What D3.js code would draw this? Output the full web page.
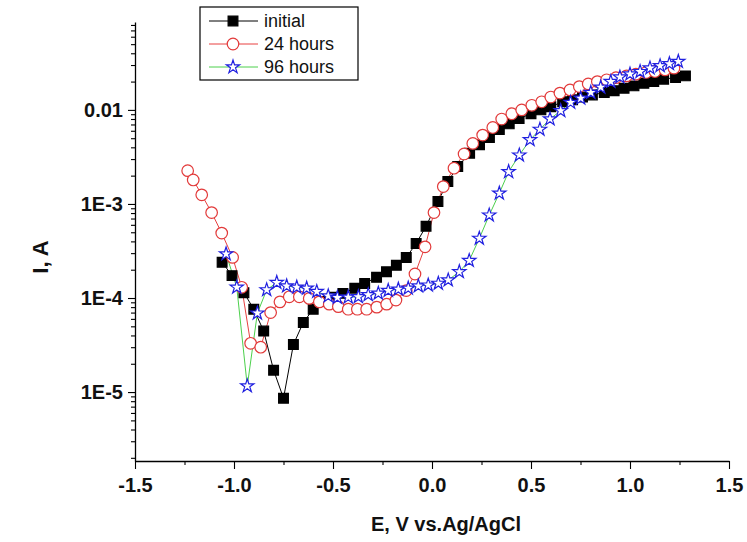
<!DOCTYPE html>
<html>
<head>
<meta charset="utf-8">
<script src="https://cdn.jsdelivr.net/npm/d3@7"></script>
<style>
  body { margin: 0; background: #fff; }
  text { font-family: "Liberation Sans", Arial, sans-serif; }
</style>
</head>
<body>
<div class="polarization"></div>
<script>
// initial scan
const eInitial = [-1.06, -1.01, -0.95, -0.90, -0.85, -0.80, -0.75, -0.70, -0.65, -0.60,
  -0.55, -0.50, -0.45, -0.39, -0.34, -0.28, -0.23, -0.18, -0.13, -0.08, -0.03, 0.03,
  0.08, 0.13, 0.19, 0.24, 0.29, 0.34, 0.39, 0.44, 0.50, 0.55, 0.60, 0.66, 0.71, 0.76,
  0.81, 0.87, 0.92, 0.97, 1.02, 1.07, 1.12, 1.17, 1.23, 1.28];
const iInitial = [2.4e-4, 1.73e-4, 1.14e-4, 7.6e-5, 4.45e-5, 1.71e-5, 8.6e-6, 3.2e-5, 5.5e-5, 7.6e-5,
  9.2e-5, 1.02e-4, 1.12e-4, 1.27e-4, 1.43e-4, 1.66e-4, 1.9e-4, 2.23e-4, 2.7e-4, 3.8e-4, 5.8e-4, 1.06e-3,
  1.73e-3, 2.5e-3, 3.46e-3, 4.25e-3, 5.1e-3, 6.2e-3, 7.1e-3, 8.1e-3, 9.1e-3, 0.010, 0.0108, 0.0122, 0.0128, 0.0137,
  0.0144, 0.0153, 0.016, 0.017, 0.018, 0.0192, 0.020, 0.0212, 0.0221, 0.023];

// after 24 hours
const e24h = [-1.234, -1.206, -1.163, -1.113, -1.062, -1.007, -0.961, -0.916, -0.865, -0.815,
  -0.768, -0.721, -0.670, -0.620, -0.569, -0.519, -0.473, -0.423, -0.377, -0.330, -0.279,
  -0.229, -0.182, -0.13, -0.086, -0.035, 0.010, 0.057, 0.111, 0.162, 0.206, 0.256, 0.307,
  0.352, 0.403, 0.453, 0.504, 0.554, 0.600, 0.646, 0.697, 0.744, 0.789, 0.835, 0.882,
  0.929, 0.983, 1.03, 1.081, 1.126, 1.177, 1.222];
const i24h = [2.26e-3, 1.8e-3, 1.25e-3, 8.1e-4, 4.9e-4, 2.7e-4, 1.3e-4, 3.3e-5, 3.0e-5, 7.0e-5,
  9.1e-5, 1.03e-4, 1.03e-4, 9.9e-5, 9.1e-5, 8.6e-5, 8.1e-5, 7.6e-5, 7.6e-5, 7.6e-5, 8.0e-5,
  8.6e-5, 9.5e-5, 1.2e-4, 1.8e-4, 3.5e-4, 8.1e-4, 1.53e-3, 2.4e-3, 3.4e-3, 4.4e-3, 5.4e-3, 6.5e-3,
  8.0e-3, 9.1e-3, 0.010, 0.0112, 0.0122, 0.0137, 0.0151, 0.0163, 0.0177, 0.0189, 0.020, 0.0209,
  0.022, 0.023, 0.024, 0.025, 0.0256, 0.0266, 0.0278];

// after 96 hours
const e96h = [-1.04, -0.986, -0.933, -0.882, -0.835, -0.784, -0.734, -0.683, -0.633, -0.582,
  -0.524, -0.478, -0.423, -0.372, -0.322, -0.271, -0.221, -0.170, -0.120, -0.069, -0.019,
  0.032, 0.082, 0.138, 0.188, 0.239, 0.289, 0.340, 0.387, 0.441, 0.495, 0.545, 0.596,
  0.650, 0.700, 0.751, 0.802, 0.852, 0.903, 0.949, 1.0, 1.051, 1.101, 1.152, 1.199, 1.244];
const i96h = [2.94e-4, 1.3e-4, 1.16e-5, 6.9e-5, 1.22e-4, 1.46e-4, 1.34e-4, 1.3e-4, 1.27e-4, 1.17e-4,
  1.05e-4, 1.01e-4, 1.02e-4, 1.03e-4, 1.08e-4, 1.12e-4, 1.2e-4, 1.24e-4, 1.27e-4, 1.34e-4, 1.37e-4,
  1.43e-4, 1.55e-4, 1.9e-4, 2.5e-4, 4.3e-4, 7.6e-4, 1.3e-3, 2.2e-3, 3.3e-3, 4.8e-3, 6.2e-3, 8.0e-3,
  9.8e-3, 0.012, 0.0133, 0.0153, 0.0174, 0.020, 0.0223, 0.024, 0.0255, 0.0278, 0.0294, 0.0309, 0.0327];

const xTicks = [-1.5, -1.0, -0.5, 0.0, 0.5, 1.0, 1.5];
const xMinorTicks = [-1.25, -0.75, -0.25, 0.25, 0.75, 1.25];
const yTicks = [1e-5, 1e-4, 1e-3, 1e-2];
const yTickLabels = ["1E-5", "1E-4", "1E-3", "0.01"];
const seriesNames = ["initial", "24 hours", "96 hours"];

const width = 747;
const height = 542;

const svg = d3
  .select(".polarization")
  .append("svg")
  .attr("width", width)
  .attr("height", height);

const x = d3.scaleLinear().domain([-1.5, 1.5]).range([135, 729]);
const y = d3.scaleLog().domain([1.85e-6, 0.086]).range([461, 22]);

// minor ticks for the log axis (2..9 in each decade)
const yMinor = [];
[-6, -5, -4, -3, -2].forEach((p) => {
  for (let k = 2; k <= 9; k++) {
    const v = k * Math.pow(10, p);
    if (v > y.domain()[0] && v < y.domain()[1]) yMinor.push(v);
  }
});

// x axis
svg
  .append("g")
  .attr("transform", `translate(0, ${y.range()[0]})`)
  .call(d3.axisBottom(x).tickValues(xMinorTicks).tickSize(4).tickSizeOuter(0).tickFormat(""))
  .call((g) => g.select(".domain").remove());

svg
  .append("g")
  .attr("class", "x-axis")
  .attr("transform", `translate(0, ${y.range()[0]})`)
  .call(
    d3.axisBottom(x).tickValues(xTicks).tickSize(8).tickSizeOuter(0).tickPadding(9)
      .tickFormat((d) => d.toFixed(1))
  );

// y axis
svg
  .append("g")
  .attr("transform", `translate(${x.range()[0]}, 0)`)
  .call(d3.axisLeft(y).tickValues(yMinor).tickSize(4).tickSizeOuter(0).tickFormat(""))
  .call((g) => g.select(".domain").remove());

svg
  .append("g")
  .attr("class", "y-axis")
  .attr("transform", `translate(${x.range()[0]}, 0)`)
  .call(
    d3.axisLeft(y).tickValues(yTicks).tickSize(7).tickSizeOuter(0).tickPadding(5)
      .tickFormat((d, i) => yTickLabels[i])
  );

svg.selectAll(".domain").attr("stroke", "#000").attr("stroke-width", 1.3);
svg.selectAll(".tick line").attr("stroke", "#000").attr("stroke-width", 1.1);
svg
  .selectAll(".x-axis text, .y-axis text")
  .attr("font-family", "Liberation Sans, Arial, sans-serif")
  .attr("font-size", 20)
  .attr("font-weight", "bold")
  .attr("fill", "#111");

// axis titles
svg
  .append("text")
  .attr("x", 446)
  .attr("y", 531)
  .attr("text-anchor", "middle")
  .attr("font-size", 20)
  .attr("font-weight", "bold")
  .attr("fill", "#111")
  .text("E, V vs.Ag/AgCl");

svg
  .append("text")
  .attr("transform", "translate(48, 257) rotate(-90)")
  .attr("text-anchor", "middle")
  .attr("font-size", 22)
  .attr("font-weight", "bold")
  .attr("fill", "#111")
  .text("I, A");

// series
const series = [
  { name: seriesNames[0], e: eInitial, i: iInitial, line: "#000", stroke: "#000", fill: "#000", shape: d3.symbolSquare, size: 95 },
  { name: seriesNames[1], e: e24h, i: i24h, line: "#e84040", stroke: "#e23a3a", fill: "#fff", shape: d3.symbolCircle, size: 105 },
  { name: seriesNames[2], e: e96h, i: i96h, line: "#4cd04c", stroke: "#2020e0", fill: "#fff", shape: d3.symbolStar, size: 55 },
];

const lineGen = d3
  .line()
  .x((d) => x(d[0]))
  .y((d) => y(d[1]));

series.forEach((s) => {
  const pts = s.e.map((v, k) => [v, s.i[k]]);
  svg
    .append("path")
    .datum(pts)
    .attr("d", lineGen)
    .attr("fill", "none")
    .attr("stroke", s.line)
    .attr("stroke-width", 1);
});

series.forEach((s) => {
  const pts = s.e.map((v, k) => [v, s.i[k]]);
  svg
    .append("g")
    .selectAll("path")
    .data(pts)
    .enter()
    .append("path")
    .attr("transform", (d) => `translate(${x(d[0])}, ${y(d[1])})`)
    .attr("d", d3.symbol().type(s.shape).size(s.size))
    .attr("fill", s.fill)
    .attr("stroke", s.stroke)
    .attr("stroke-width", 1.2);
});

// legend
const legend = svg.append("g").attr("transform", "translate(200, 7)");
legend
  .append("rect")
  .attr("width", 158)
  .attr("height", 73)
  .attr("fill", "#fff")
  .attr("stroke", "#000")
  .attr("stroke-width", 1.2);

series.forEach((s, k) => {
  const ly = 14 + k * 23;
  legend
    .append("line")
    .attr("x1", 9)
    .attr("x2", 58)
    .attr("y1", ly)
    .attr("y2", ly)
    .attr("stroke", s.line)
    .attr("stroke-width", 1);
  legend
    .append("path")
    .attr("transform", `translate(33, ${ly})`)
    .attr("d", d3.symbol().type(s.shape).size(s.size))
    .attr("fill", s.fill)
    .attr("stroke", s.stroke)
    .attr("stroke-width", 1.2);
  legend
    .append("text")
    .attr("x", 64)
    .attr("y", ly + 6)
    .attr("font-size", 18)
    .attr("fill", "#111")
    .text(s.name);
});
</script>
</body>
</html>
